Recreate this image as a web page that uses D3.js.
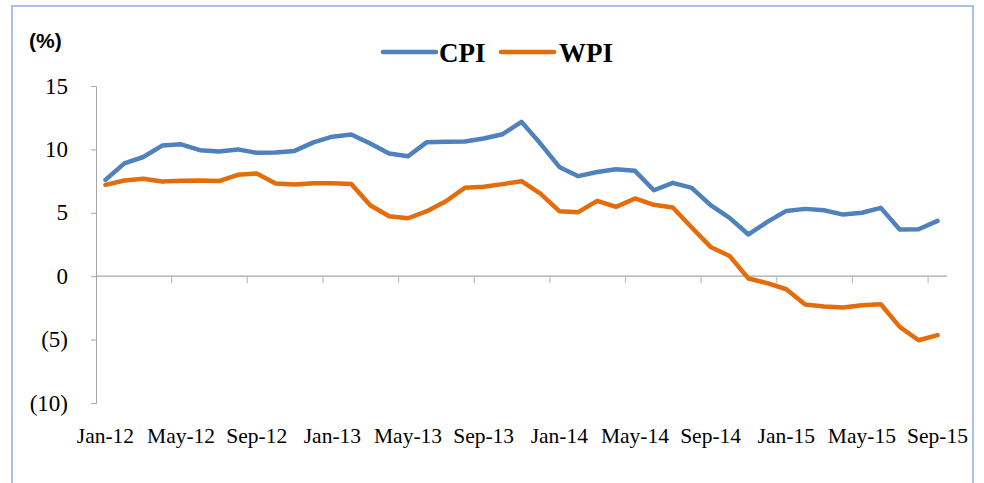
<!DOCTYPE html>
<html>
<head>
<meta charset="utf-8">
<script src="https://cdn.jsdelivr.net/npm/d3@7"></script>
<style>
  html, body { margin: 0; padding: 0; background: #ffffff; }
  svg { display: block; }
</style>
</head>
<body>
<script>
// ---- data ----
const categories = [
  "Jan-12","Feb-12","Mar-12","Apr-12","May-12","Jun-12","Jul-12","Aug-12","Sep-12","Oct-12","Nov-12","Dec-12",
  "Jan-13","Feb-13","Mar-13","Apr-13","May-13","Jun-13","Jul-13","Aug-13","Sep-13","Oct-13","Nov-13","Dec-13",
  "Jan-14","Feb-14","Mar-14","Apr-14","May-14","Jun-14","Jul-14","Aug-14","Sep-14","Oct-14","Nov-14","Dec-14",
  "Jan-15","Feb-15","Mar-15","Apr-15","May-15","Jun-15","Jul-15","Aug-15","Sep-15"
];
const cpiValues = [
  7.6, 8.9, 9.4, 10.3, 10.4, 9.94, 9.83, 10.0, 9.73, 9.75, 9.88, 10.55,
  11.0, 11.17, 10.46, 9.67, 9.46, 10.57, 10.6, 10.62, 10.86, 11.2, 12.17, 10.46,
  8.62, 7.89, 8.22, 8.44, 8.31, 6.78, 7.36, 6.97, 5.6, 4.6, 3.29, 4.28,
  5.15, 5.31, 5.2, 4.86, 5.0, 5.39, 3.68, 3.7, 4.36
];
const wpiValues = [
  7.2, 7.55, 7.68, 7.47, 7.52, 7.55, 7.5, 8.0, 8.1, 7.31, 7.23, 7.33,
  7.33, 7.28, 5.6, 4.73, 4.57, 5.13, 5.91, 6.97, 7.05, 7.26, 7.49, 6.52,
  5.13, 5.05, 5.94, 5.47, 6.13, 5.63, 5.42, 3.84, 2.31, 1.6, -0.18, -0.55,
  -1.03, -2.23, -2.39, -2.47, -2.29, -2.21, -4.0, -5.05, -4.65
];
const yTicks = [15, 10, 5, 0, -5, -10];
const yTickLabels = ["15", "10", "5", "0", "(5)", "(10)"];
const xLabelStep = 4;
const seriesNames = ["CPI", "WPI"];
const seriesColors = ["#4F81BD", "#E46C0A"];
// ------------------

const W = 984, H = 483;
const svg = d3.select("body").append("svg").attr("width", W).attr("height", H);

// outer frame
svg.append("rect")
  .attr("x", 12).attr("y", 6).attr("width", 961).attr("height", 500)
  .attr("fill", "none").attr("stroke", "#A9C1E6").attr("stroke-width", 2);

const plot = { left: 96, right: 947, top: 86, bottom: 403 };

const x = d3.scaleBand().domain(categories).range([plot.left, plot.right]).paddingInner(0).paddingOuter(0);
const y = d3.scaleLinear().domain([-10, 15]).range([plot.bottom, plot.top]);
const cx = d => x(d) + x.bandwidth() / 2;

// y axis
const yAxis = d3.axisLeft(y).tickValues(yTicks).tickSize(5).tickFormat("");
const gy = svg.append("g").attr("transform", `translate(${plot.left},0)`).call(yAxis);
gy.select(".domain").attr("stroke", "#A6A6A6").attr("stroke-width", 1);
gy.selectAll(".tick line").attr("stroke", "#A6A6A6");

svg.append("g").selectAll("text").data(yTicks).join("text")
  .attr("x", 68).attr("y", d => y(d))
  .attr("text-anchor", "end").attr("dominant-baseline", "central")
  .attr("font-family", "Liberation Serif, serif").attr("font-size", 23)
  .attr("fill", "#000")
  .text((d, i) => yTickLabels[i]);

// x axis at zero
const boundaryTicks = categories.filter((d, i) => i % xLabelStep === 0 && i > 0);
const gx = svg.append("g").attr("transform", `translate(0,${y(0)})`);
gx.append("line").attr("x1", plot.left).attr("x2", plot.right)
  .attr("stroke", "#A6A6A6").attr("stroke-width", 1.2);
gx.selectAll("line.tk").data(boundaryTicks).join("line").attr("class", "tk")
  .attr("x1", d => x(d)).attr("x2", d => x(d)).attr("y1", 0).attr("y2", 7)
  .attr("stroke", "#BFBFBF").attr("stroke-width", 1.2);

// x labels
svg.append("g").selectAll("text").data(categories.filter((d, i) => i % xLabelStep === 0)).join("text")
  .attr("x", d => cx(d)).attr("y", 436)
  .attr("text-anchor", "middle").attr("dominant-baseline", "central")
  .attr("font-family", "Liberation Serif, serif").attr("font-size", 21.5)
  .attr("fill", "#000")
  .text(d => d);

// lines
const series = [cpiValues, wpiValues];
const line = d3.line().x((d, i) => cx(categories[i])).y(d => y(d));
series.forEach((vals, k) => {
  svg.append("path").datum(vals)
    .attr("d", line)
    .attr("fill", "none")
    .attr("stroke", seriesColors[k])
    .attr("stroke-width", 4.5)
    .attr("stroke-linejoin", "round")
    .attr("stroke-linecap", "round");
});

// legend
const legendItems = [
  { lx: 383, tx: 439 },
  { lx: 501, tx: 559 }
];
seriesNames.forEach((name, k) => {
  const it = legendItems[k];
  svg.append("line")
    .attr("x1", it.lx).attr("x2", it.lx + 53).attr("y1", 52).attr("y2", 52)
    .attr("stroke", seriesColors[k]).attr("stroke-width", 4.5).attr("stroke-linecap", "round");
  svg.append("text")
    .attr("x", it.tx).attr("y", 53)
    .attr("dominant-baseline", "central")
    .attr("font-family", "Liberation Serif, serif").attr("font-size", 27).attr("font-weight", "bold")
    .attr("fill", "#000")
    .text(name);
});

// unit label
svg.append("text")
  .attr("x", 29).attr("y", 40)
  .attr("dominant-baseline", "central")
  .attr("font-family", "Liberation Sans, Arial, sans-serif").attr("font-size", 21).attr("font-weight", "bold")
  .attr("fill", "#000")
  .text("(%)");
</script>
</body>
</html>
